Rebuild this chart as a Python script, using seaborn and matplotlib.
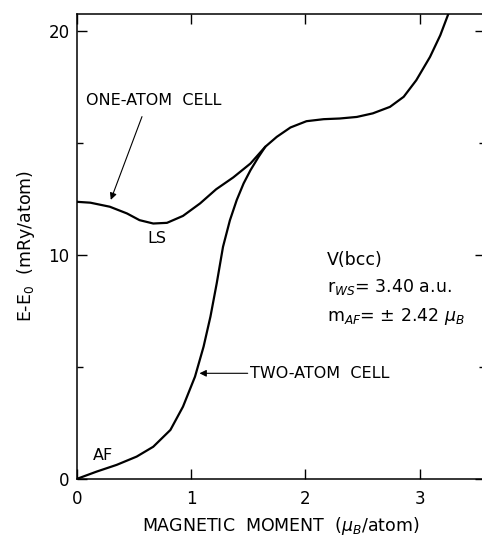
import numpy as np
import pandas as pd
import matplotlib
matplotlib.use("Agg")
import matplotlib.pyplot as plt
import matplotlib.ticker as mticker
import seaborn as sns

# Curves (magnetic moment in mu_B/atom, energy in mRy/atom)
one_atom_m = [0, 0.12, 0.29, 0.44, 0.55, 0.67, 0.79, 0.93, 1.08, 1.22, 1.37, 1.52, 1.65,
              1.75, 1.87, 2.01, 2.16, 2.30, 2.45, 2.59, 2.74, 2.86, 2.97, 3.09, 3.18, 3.26]
one_atom_e = [12.38, 12.34, 12.16, 11.86, 11.56, 11.41, 11.44, 11.75, 12.31, 12.94, 13.47, 14.09, 14.84,
              15.28, 15.70, 15.98, 16.07, 16.10, 16.17, 16.33, 16.62, 17.07, 17.81, 18.85, 19.82, 20.90]

two_atom_m = [0, 0.175, 0.35, 0.525, 0.67, 0.82, 0.93, 1.035, 1.11, 1.17, 1.225, 1.28, 1.34,
              1.40, 1.46, 1.52, 1.59, 1.65]
two_atom_e = [0, 0.33, 0.63, 1.00, 1.44, 2.19, 3.23, 4.57, 5.91, 7.25, 8.74, 10.37, 11.55,
              12.46, 13.20, 13.79, 14.38, 14.84]

x_ticks = [0, 1, 2, 3]
y_ticks = [0, 10, 20]

df = pd.concat([
    pd.DataFrame({"m": one_atom_m, "E": one_atom_e, "cell": "one"}),
    pd.DataFrame({"m": two_atom_m, "E": two_atom_e, "cell": "two"}),
])

sns.set_style("ticks")
plt.rcParams["font.family"] = ["DejaVu Sans"]
plt.rcParams["mathtext.fontset"] = "dejavusans"
for key in ["text.color", "axes.labelcolor", "xtick.color", "ytick.color", "axes.edgecolor"]:
    plt.rcParams[key] = "black"

fig = plt.figure(figsize=(4.82, 5.4), dpi=100)
ax = fig.add_axes([0.159, 0.113, 0.847, 0.862])

sns.lineplot(data=df, x="m", y="E", hue="cell", palette={"one": "black", "two": "black"},
             estimator=None, sort=False, legend=False, linewidth=1.6, ax=ax)

ax.set_xlim(0, 3.57)
ax.set_ylim(0, 20.79)

ax.set_xticks(x_ticks)
ax.set_yticks(y_ticks)
ax.yaxis.set_minor_locator(mticker.MultipleLocator(5))
ax.tick_params(which="major", direction="in", length=7.5, width=1, top=True, right=True,
               labelsize=12, pad=8)
ax.tick_params(axis="y", which="major", pad=5)
ax.tick_params(which="minor", direction="in", length=4, width=1, right=True)
for s in ax.spines.values():
    s.set_linewidth(1.1)

ax.set_xlabel(r"MAGNETIC  MOMENT  ($\mu_B$/atom)", fontsize=12.5, labelpad=5)
ax.set_ylabel(r"E-E$_0$  (mRy/atom)", fontsize=12.5, labelpad=8)

txt = dict(fontsize=11.5, color="black")
ax.text(0.08, 16.9, "ONE-ATOM  CELL", ha="left", va="center", **txt)
ax.annotate("", xy=(0.29, 12.35), xytext=(0.58, 16.3),
            arrowprops=dict(arrowstyle="-|>", color="black", lw=0.8, mutation_scale=10))
ax.text(0.70, 10.74, "LS", ha="center", va="center", **txt)
ax.text(0.23, 1.05, "AF", ha="center", va="center", **txt)
ax.text(1.52, 4.72, "TWO-ATOM  CELL", ha="left", va="center", **txt)
ax.annotate("", xy=(1.05, 4.72), xytext=(1.52, 4.72),
            arrowprops=dict(arrowstyle="-|>", color="black", lw=0.8, mutation_scale=10))

ax.text(2.19, 9.78, "V(bcc)", ha="left", va="center", fontsize=12.5)
ax.text(2.19, 8.57, r"r$_{WS}$= 3.40 a.u.", ha="left", va="center", fontsize=12.5)
ax.text(2.19, 7.25, r"m$_{AF}$= $\pm$ 2.42 $\mu_B$", ha="left", va="center", fontsize=12.5)

fig.savefig("out.png", dpi=100)
